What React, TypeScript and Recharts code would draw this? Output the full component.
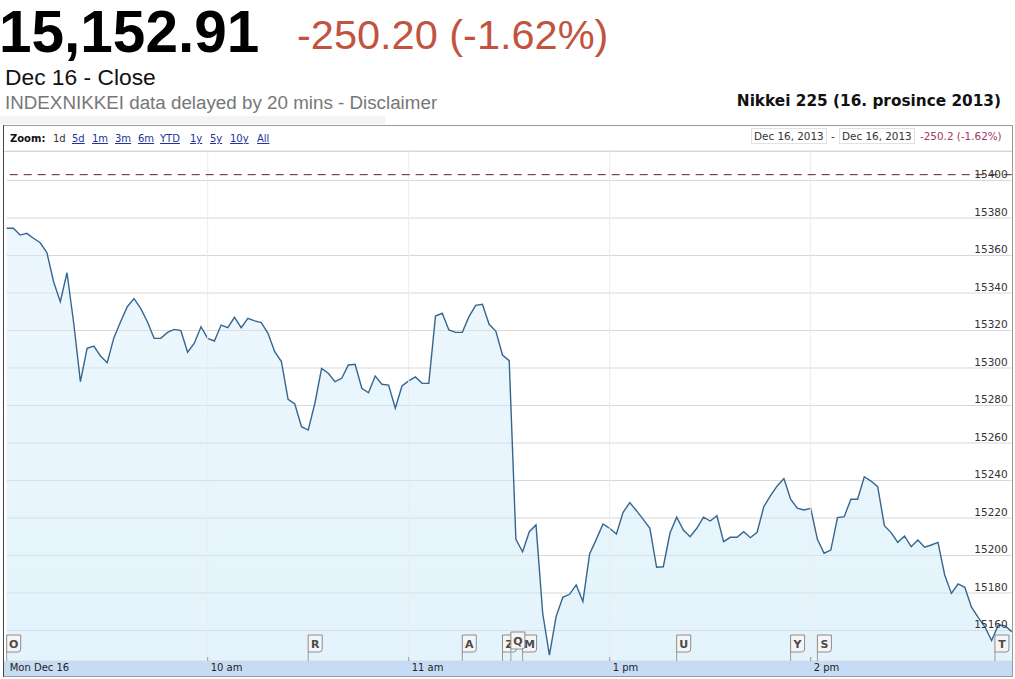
import {
  AreaChart, Area, XAxis, YAxis, CartesianGrid, ReferenceLine, ReferenceDot,
} from 'recharts';

// Nikkei 225 intraday, Dec 16 2013. One sample every 2 trading minutes;
// the lunch break (11:30–12:30) is cut out of the time axis, as in the source.
const STEP_MIN = 2;
const PRICES = [
  15374.5, 15374.5, 15370.9, 15371.8, 15369.2, 15366.8, 15361.5, 15346.0, 15335.4, 15350.8,
  15324.0, 15292.7, 15310.5, 15311.7, 15306.4, 15302.8, 15316.2, 15324.7, 15332.7, 15337.0,
  15331.8, 15324.7, 15315.8, 15315.8, 15319.0, 15320.6, 15319.9, 15308.4, 15313.2, 15322.0,
  15315.8, 15314.4, 15322.9, 15321.5, 15327.0, 15321.5, 15326.5, 15325.1, 15324.2, 15318.5,
  15308.7, 15303.4, 15283.3, 15280.8, 15268.7, 15266.9, 15281.2, 15299.8, 15297.2, 15292.7,
  15294.5, 15301.6, 15302.0, 15289.2, 15286.8, 15295.7, 15291.3, 15290.9, 15278.5, 15290.4,
  15293.1, 15295.2, 15291.8, 15291.8, 15327.7, 15329.2, 15320.3, 15319.0, 15319.0, 15327.4,
  15333.4, 15334.0, 15323.3, 15319.7, 15306.9, 15303.9, 15208.6, 15202.0, 15212.7, 15216.3,
  15169.2, 15146.9, 15167.4, 15177.7, 15179.3, 15184.3, 15175.4, 15200.8, 15208.6, 15216.8,
  15214.5, 15211.5, 15223.0, 15228.2, 15223.9, 15219.3, 15214.5, 15193.7, 15194.0, 15212.0,
  15220.4, 15213.6, 15210.0, 15214.5, 15220.4, 15218.4, 15221.2, 15207.4, 15209.7, 15209.7,
  15212.7, 15209.5, 15212.4, 15226.0, 15231.9, 15237.1, 15241.0, 15230.1, 15225.2, 15224.3,
  15225.2, 15208.6, 15201.2, 15202.9, 15220.2, 15220.7, 15230.0, 15230.0, 15242.0, 15239.7,
  15236.7, 15215.9, 15212.2, 15207.0, 15210.4, 15204.7, 15208.3, 15204.4, 15205.6, 15207.0,
  15189.6, 15179.8, 15184.8, 15183.0, 15172.4, 15167.0, 15162.0, 15154.6, 15162.9, 15162.6,
  15159.4,
];
const PREV_CLOSE = 15403.11;

const Y_DOMAIN = [15143.73, 15415.73];
const Y_TICKS = [15160, 15180, 15200, 15220, 15240, 15260, 15280, 15300, 15320, 15340, 15360, 15380, 15400];

const X_TICKS = [0, 60, 120, 180, 240];
const X_TICK_LABELS = ['Mon Dec 16', '10 am', '11 am', '1 pm', '2 pm'];
const HOUR_LINES = [60, 120, 180, 240];

// news flags: trading minute + letter (drawn in this order, later ones on top)
const FLAG_TIMES = [0, 90, 136, 148, 154, 150.5, 200, 234, 242, 295];
const FLAG_LETTERS = ['O', 'R', 'A', 'Z', 'M', 'Q', 'U', 'Y', 'S', 'T'];

const ZOOM_LINKS = ['1d', '5d', '1m', '3m', '6m', 'YTD', '1y', '5y', '10y', 'All'];
const ZOOM_X = [53, 72, 92, 115, 138, 160, 190, 210, 230, 257];

const data = PRICES.map((price, i) => ({ t: i * STEP_MIN, price }));

const SANS = 'Liberation Sans, Arial, sans-serif';
const SMALL = 'DejaVu Sans, Verdana, sans-serif';

function TimeTick({ x, y, payload }: any) {
  const i = X_TICKS.indexOf(payload.value);
  return (
    <g>
      {i > 0 && <line x1={x} x2={x} y1={y - 4} y2={y} stroke="#8a9aaa" />}
      <text x={x + 3} y={y + 10} fontSize={10} fill="#222" fontFamily={SMALL}>
        {X_TICK_LABELS[i]}
      </text>
    </g>
  );
}

function PriceTick({ x, y, payload }: any) {
  return (
    <text x={x - 4} y={y - 2} textAnchor="end" fontSize={10.5} fill="#333" fontFamily={SMALL}>
      {payload.value}
    </text>
  );
}

function Flag({ cx, cy, letter, lift }: any) {
  const top = cy - 26 - lift;
  return (
    <g>
      <line x1={cx} x2={cx} y1={top + 16} y2={cy} stroke="#9a9a9a" />
      <path
        d={`M${cx},${top} h14 v14 q0,3 -3,3 h-11 z`}
        fill="#f5f5f5"
        stroke="#8c8c8c"
      />
      <text
        x={cx + 7}
        y={top + 13}
        textAnchor="middle"
        fontSize={11}
        fontWeight="bold"
        fill="#4a4a4a"
        fontFamily={SMALL}
      >
        {letter}
      </text>
    </g>
  );
}

function Backdrop() {
  return (
    <svg width={1015} height={679} style={{ position: 'absolute', left: 0, top: 0 }}>
      <rect x={0} y={0} width={1015} height={679} fill="#fff" />
      {/* quote header */}
      <text x={-1} y={52} fontSize={58.5} fontWeight="bold" fill="#000" fontFamily={SANS}>15,152.91</text>
      <text x={297} y={49} fontSize={41.5} fill="#c1533f" fontFamily={SANS}>-250.20 (-1.62%)</text>
      <text x={5} y={85} fontSize={22.8} fill="#111" fontFamily={SANS}>Dec 16 - Close</text>
      <text x={5} y={109} fontSize={18.8} fill="#777" fontFamily={SANS}>
        INDEXNIKKEI data delayed by 20 mins - Disclaimer
      </text>
      <rect x={0} y={116} width={385} height={8} fill="#f4f4f4" />
      <text x={1001} y={106} textAnchor="end" fontSize={15.3} fontWeight="bold" fill="#111" fontFamily={SMALL}>
        Nikkei 225 (16. prosince 2013)
      </text>

      {/* chart frame */}
      <rect x={3.5} y={125.5} width={1009} height={551} fill="#fff" stroke="#9a9a9a" />
      <line x1={3.5} x2={3.5} y1={125} y2={677} stroke="#444" />
      <line x1={4} x2={1012} y1={151.5} y2={151.5} stroke="#d4d4d4" />
      <rect x={4} y={661} width={1008} height={15} fill="#c6dcf4" />

      {/* zoom bar */}
      <text x={10} y={142} fontSize={10} fontWeight="bold" fill="#111" fontFamily={SMALL}>Zoom:</text>
      {ZOOM_LINKS.map((z, i) => (
        <text
          key={z}
          x={ZOOM_X[i]}
          y={142}
          fontSize={10}
          fill={i === 0 ? '#333' : '#22349b'}
          textDecoration={i === 0 ? undefined : 'underline'}
          fontFamily={SMALL}
        >
          {z}
        </text>
      ))}

      {/* date range */}
      <rect x={751.5} y={128.5} width={75} height={15} fill="#fff" stroke="#e2e2e2" />
      <text x={754} y={140} fontSize={10.4} fill="#333" fontFamily={SMALL}>Dec 16, 2013</text>
      <text x={831} y={140} fontSize={10.4} fill="#333" fontFamily={SMALL}>-</text>
      <rect x={839.5} y={128.5} width={75} height={15} fill="#fff" stroke="#e2e2e2" />
      <text x={842} y={140} fontSize={10.4} fill="#333" fontFamily={SMALL}>Dec 16, 2013</text>
      <text x={920} y={140} fontSize={10.4} fill="#a3365f" fontFamily={SMALL}>-250.2 (-1.62%)</text>
    </svg>
  );
}

export default function App() {
  return (
    <div style={{ position: 'absolute', left: 0, top: 0, width: 1015, height: 679, overflow: 'hidden' }}>
      <Backdrop />
      <div style={{ position: 'absolute', left: 0, top: 0 }}>
        <AreaChart
          width={1015}
          height={679}
          data={data}
          margin={{ top: 151, right: 3.3, bottom: 4, left: 6.7 }}
        >
          <defs>
            <linearGradient id="nikkeiFill" x1="0" y1="0" x2="0" y2="1">
              <stop offset="0%" stopColor="#d6eefb" stopOpacity={0.45} />
              <stop offset="100%" stopColor="#c9e7f8" stopOpacity={0.5} />
            </linearGradient>
          </defs>
          <CartesianGrid vertical={false} stroke="#d8d8d8" />
          {HOUR_LINES.map(h => (
            <ReferenceLine key={h} x={h} stroke="#ececec" />
          ))}
          <XAxis
            dataKey="t"
            type="number"
            domain={[0, 300]}
            ticks={X_TICKS}
            interval={0}
            height={14}
            tickSize={0}
            tickMargin={0}
            axisLine={false}
            tickLine={false}
            tick={<TimeTick />}
          />
          <YAxis
            orientation="right"
            mirror
            type="number"
            domain={Y_DOMAIN}
            ticks={Y_TICKS}
            interval={0}
            tickSize={0}
            tickMargin={0}
            axisLine={false}
            tickLine={false}
            tick={<PriceTick />}
          />
          <Area
            type="linear"
            dataKey="price"
            stroke="#36668f"
            strokeWidth={1.4}
            fill="url(#nikkeiFill)"
            fillOpacity={1}
            dot={false}
            activeDot={false}
            isAnimationActive={false}
          />
          <ReferenceLine y={PREV_CLOSE} stroke="#5e2424" strokeDasharray="8 6" />
          {FLAG_TIMES.map((t, i) => (
            <ReferenceDot
              key={FLAG_LETTERS[i]}
              x={t}
              y={Y_DOMAIN[0]}
              r={0}
              ifOverflow="visible"
              shape={(p: any) => (
                <Flag cx={p.cx} cy={p.cy} letter={FLAG_LETTERS[i]} lift={FLAG_LETTERS[i] === 'Q' ? 3 : 0} />
              )}
            />
          ))}
        </AreaChart>
      </div>
    </div>
  );
}
